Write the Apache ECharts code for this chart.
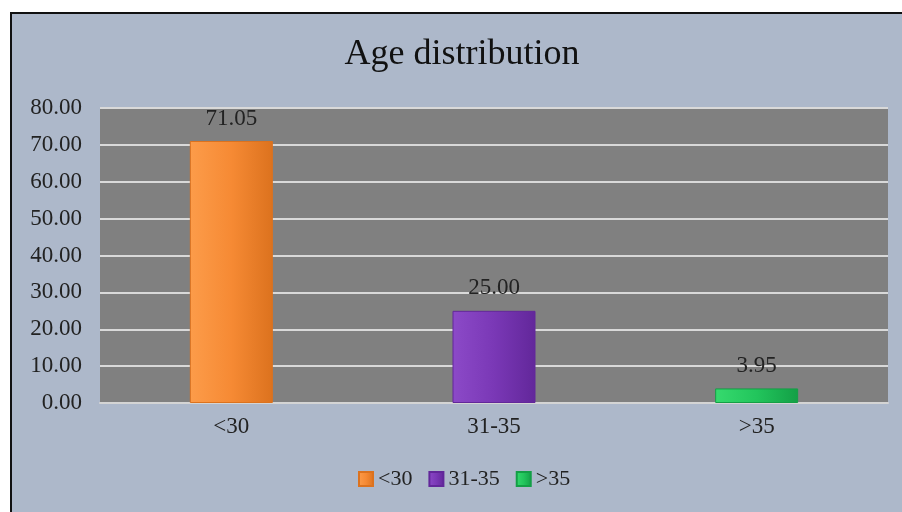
<!DOCTYPE html>
<html><head><meta charset="utf-8">
<script src="https://cdn.jsdelivr.net/npm/echarts@6/dist/echarts.min.js"></script>
<style>html,body{margin:0;padding:0;background:#fff;}#c{width:902px;height:512px;}</style>
</head><body><div id="c"></div>
<script>
const categories = ['<30', '31-35', '>35'];
const values = [71.05, 25.00, 3.95];
const yTicks = { min: 0, max: 80, interval: 10 };
const colors = [
  ['#fc9c4a', '#f68a34', '#dc721e'],
  ['#8c4ac8', '#7a38b6', '#62279a'],
  ['#36da6e', '#22c55c', '#139f46']
];
const font = 'Liberation Serif, Times New Roman, serif';
const chart = echarts.init(document.getElementById('c'));
const series = categories.map((name, i) => ({
  name: name,
  type: 'bar',
  stack: 'all',
  barWidth: 83,
  data: categories.map((c, j) => j === i ? values[i] : null),
  itemStyle: {
    color: new echarts.graphic.LinearGradient(0, 0, 1, 0, [
      { offset: 0, color: colors[i][0] },
      { offset: 0.5, color: colors[i][1] },
      { offset: 1, color: colors[i][2] }
    ]),
    borderColor: colors[i][2],
    borderWidth: 1
  },
  label: {
    show: true, position: 'top', distance: 11,
    formatter: p => p.value.toFixed(2),
    fontFamily: font, fontSize: 23, color: '#222'
  }
}));
chart.setOption({
  backgroundColor: '#ffffff',
  animation: false,
  graphic: [{
    type: 'rect', z: -10, silent: true,
    shape: { x: 11, y: 13, width: 900, height: 510 },
    style: { fill: '#adb8ca', stroke: '#111', lineWidth: 2 }
  }],
  title: {
    text: 'Age distribution', left: 457, top: 32, textAlign: 'center',
    textStyle: { fontFamily: font, fontSize: 36, fontWeight: 'normal', color: '#111' }
  },
  legend: {
    data: categories, bottom: 17, left: 353,
    icon: 'rect', itemWidth: 14, itemHeight: 14, itemGap: 16,
    textStyle: { fontFamily: font, fontSize: 22, color: '#222' }
  },
  grid: {
    left: 100, right: 14, top: 108, bottom: 109,
    show: true, backgroundColor: '#808080', borderWidth: 0
  },
  xAxis: {
    type: 'category', data: categories,
    axisLine: { lineStyle: { color: '#d4d4d4', width: 2 } },
    axisTick: { show: false },
    axisLabel: { fontFamily: font, fontSize: 23, color: '#222', margin: 12 }
  },
  yAxis: {
    type: 'value', min: yTicks.min, max: yTicks.max, interval: yTicks.interval,
    axisLine: { show: false }, axisTick: { show: false },
    splitLine: { lineStyle: { color: '#d9d9d9', width: 2 } },
    axisLabel: { fontFamily: font, fontSize: 23, color: '#222', margin: 18, formatter: v => v.toFixed(2) }
  },
  series: series
});
</script></body></html>
